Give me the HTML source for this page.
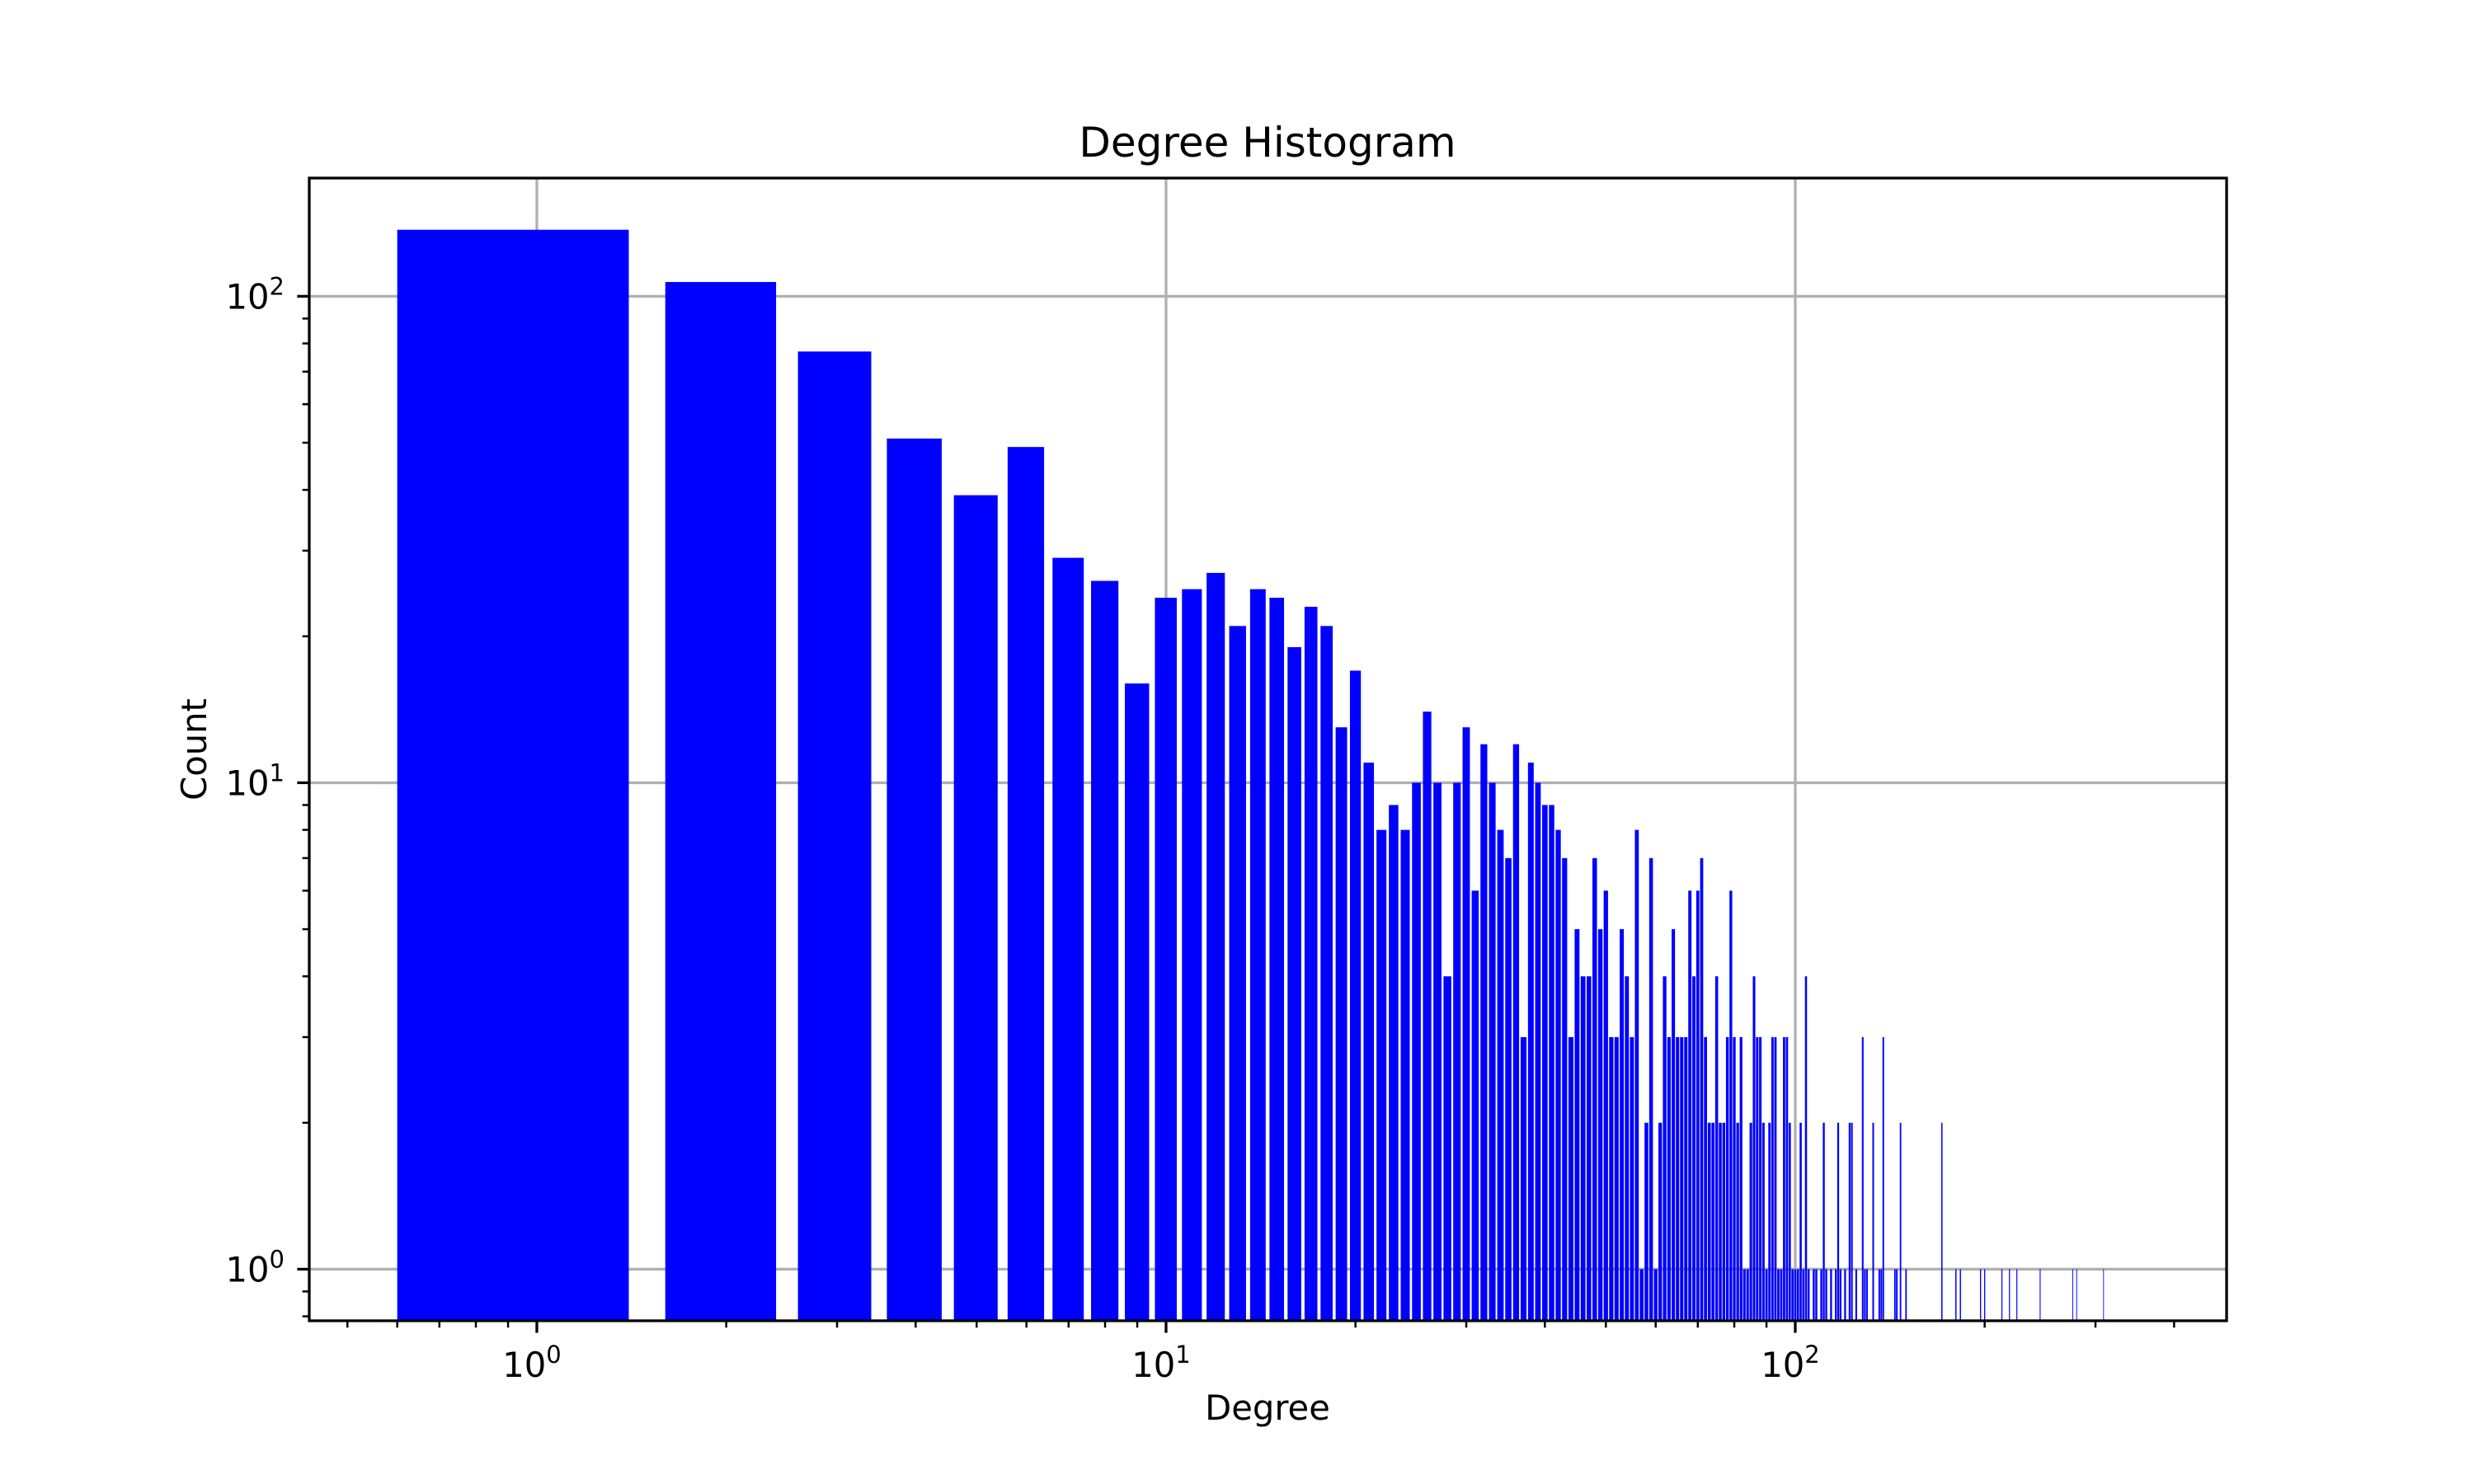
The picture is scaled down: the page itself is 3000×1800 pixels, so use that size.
<!DOCTYPE html>
<html><head><meta charset="utf-8"><style>
html,body{margin:0;padding:0;background:#fff;}
svg{display:block;font-family:"DejaVu Sans","Liberation Sans",sans-serif;}
</style></head>
<body>
<svg id="chart" width="3000" height="1800" viewBox="0 0 3000 1800" xmlns="http://www.w3.org/2000/svg">
<rect x="0" y="0" width="3000" height="1800" fill="#fff"/>
<g id="grid"></g>
<g id="bars"></g>
<g id="axes"></g>
<text x="1537" y="190" font-size="50" text-anchor="middle">Degree Histogram</text>
<text x="1537" y="1722" font-size="41.7" text-anchor="middle">Degree</text>
<text x="0" y="0" font-size="41.7" text-anchor="middle" transform="translate(250,909) rotate(-90)">Count</text>
</svg>
<script>
// degrees 1..100 counts
const lowCounts = [137,107,77,51,39,49,29,26,16,24,25,27,21,25,24,19,23,21,13,17,11,8,9,8,10,14,10,4,10,13,6,12,10,8,7,12,3,11,10,9,9,8,7,3,5,4,4,7,5,6,3,3,5,4,3,8,1,2,7,1,2,4,3,5,3,3,3,6,4,6,7,3,2,2,4,2,2,3,6,3,2,3,1,1,2,4,3,3,2,1,2,3,3,1,1,3,3,2,1,1];
const highDegrees = [101,102,103,104,105,107,108,110,111,112,114,116,117,118,120,122,123,125,128,129,130,133,136,137,138,144,145,147,150,171,180,183,197,200,213,219,225,245,276,280,309];
const highCounts  = [1,2,1,4,1,1,1,1,2,1,1,1,2,1,1,2,2,1,3,1,1,2,1,1,3,1,1,2,1,2,1,1,1,1,1,1,1,1,1,1,1];
const xMajorTicks = [1,10,100];
const xTickExp = ["0","1","2"];
const yMajorTicks = [1,10,100];
const yTickExp = ["0","1","2"];

const L=375,R=2700,T=216,B=1602;
const xLogMin=-0.3617, xLogMax=2.6855;
const yLogMin=-0.106, yLogMax=2.243;
const NS="http://www.w3.org/2000/svg";
function xs(v){return L+(Math.log10(v)-xLogMin)/(xLogMax-xLogMin)*(R-L);}
function ys(v){return B-(Math.log10(v)-yLogMin)/(yLogMax-yLogMin)*(B-T);}
function mk(tag,attrs,parent){const e=document.createElementNS(NS,tag);for(const k in attrs)e.setAttribute(k,attrs[k]);parent.appendChild(e);return e;}

const grid=document.getElementById('grid'), bars=document.getElementById('bars'), axes=document.getElementById('axes');

// grid
xMajorTicks.forEach(v=>{const g=mk('line',{x1:xs(v),x2:xs(v),y1:T,y2:B,stroke:'#b0b0b0','stroke-width':3.3},grid);

});
yMajorTicks.forEach(v=>{const g=mk('line',{x1:L,x2:R,y1:ys(v),y2:ys(v),stroke:'#b0b0b0','stroke-width':3.3},grid);

});

// bars
const degs=[],cnts=[];
lowCounts.forEach((c,i)=>{degs.push(i+1);cnts.push(c);});
highDegrees.forEach((d,i)=>{degs.push(d);cnts.push(highCounts[i]);});
degs.forEach((d,i)=>{
  const x0=xs(d-0.4), x1=xs(d+0.4), y=ys(cnts[i]);
  const r=mk('rect',{x:x0,y:y,width:Math.max(x1-x0,0.5),height:B-y,fill:'#0000ff'},bars);
  
  
});

// spines
const sp=mk('rect',{x:L,y:T,width:R-L,height:B-T,fill:'none',stroke:'#000','stroke-width':3.3},axes);



// x ticks
xMajorTicks.forEach((v,i)=>{
  const x=xs(v);
  const t=mk('line',{x1:x,x2:x,y1:B,y2:B+14.6,stroke:'#000','stroke-width':3.3},axes);
  
  
  const tx=mk('text',{x:x-6,y:B+68,'font-size':41.7,'text-anchor':'middle'},axes);
  
  
  tx.innerHTML='10<tspan font-size="29" dy="-17">'+xTickExp[i]+'</tspan>';
});
for(let e=-1;e<=2;e++){for(let m=2;m<=9;m++){const v=m*Math.pow(10,e);const lv=Math.log10(v);
  if(lv<xLogMin||lv>xLogMax)continue;
  const t=mk('line',{x1:xs(v),x2:xs(v),y1:B,y2:B+8.3,stroke:'#000','stroke-width':2.5},axes);
  
  }}

// y ticks
yMajorTicks.forEach((v,i)=>{
  const y=ys(v);
  const t=mk('line',{x1:L-14.6,x2:L,y1:y,y2:y,stroke:'#000','stroke-width':3.3},axes);
  
  
  const tx=mk('text',{x:L-30,y:y+15,'font-size':41.7,'text-anchor':'end'},axes);
  
  
  tx.innerHTML='10<tspan font-size="29" dy="-17">'+yTickExp[i]+'</tspan>';
});
for(let e=-1;e<=2;e++){for(let m=2;m<=9;m++){const v=m*Math.pow(10,e);const lv=Math.log10(v);
  if(lv<yLogMin||lv>yLogMax)continue;
  const t=mk('line',{x1:L-8.3,x2:L,y1:ys(v),y2:ys(v),stroke:'#000','stroke-width':2.5},axes);
  
  }}
</script>
</body></html>
